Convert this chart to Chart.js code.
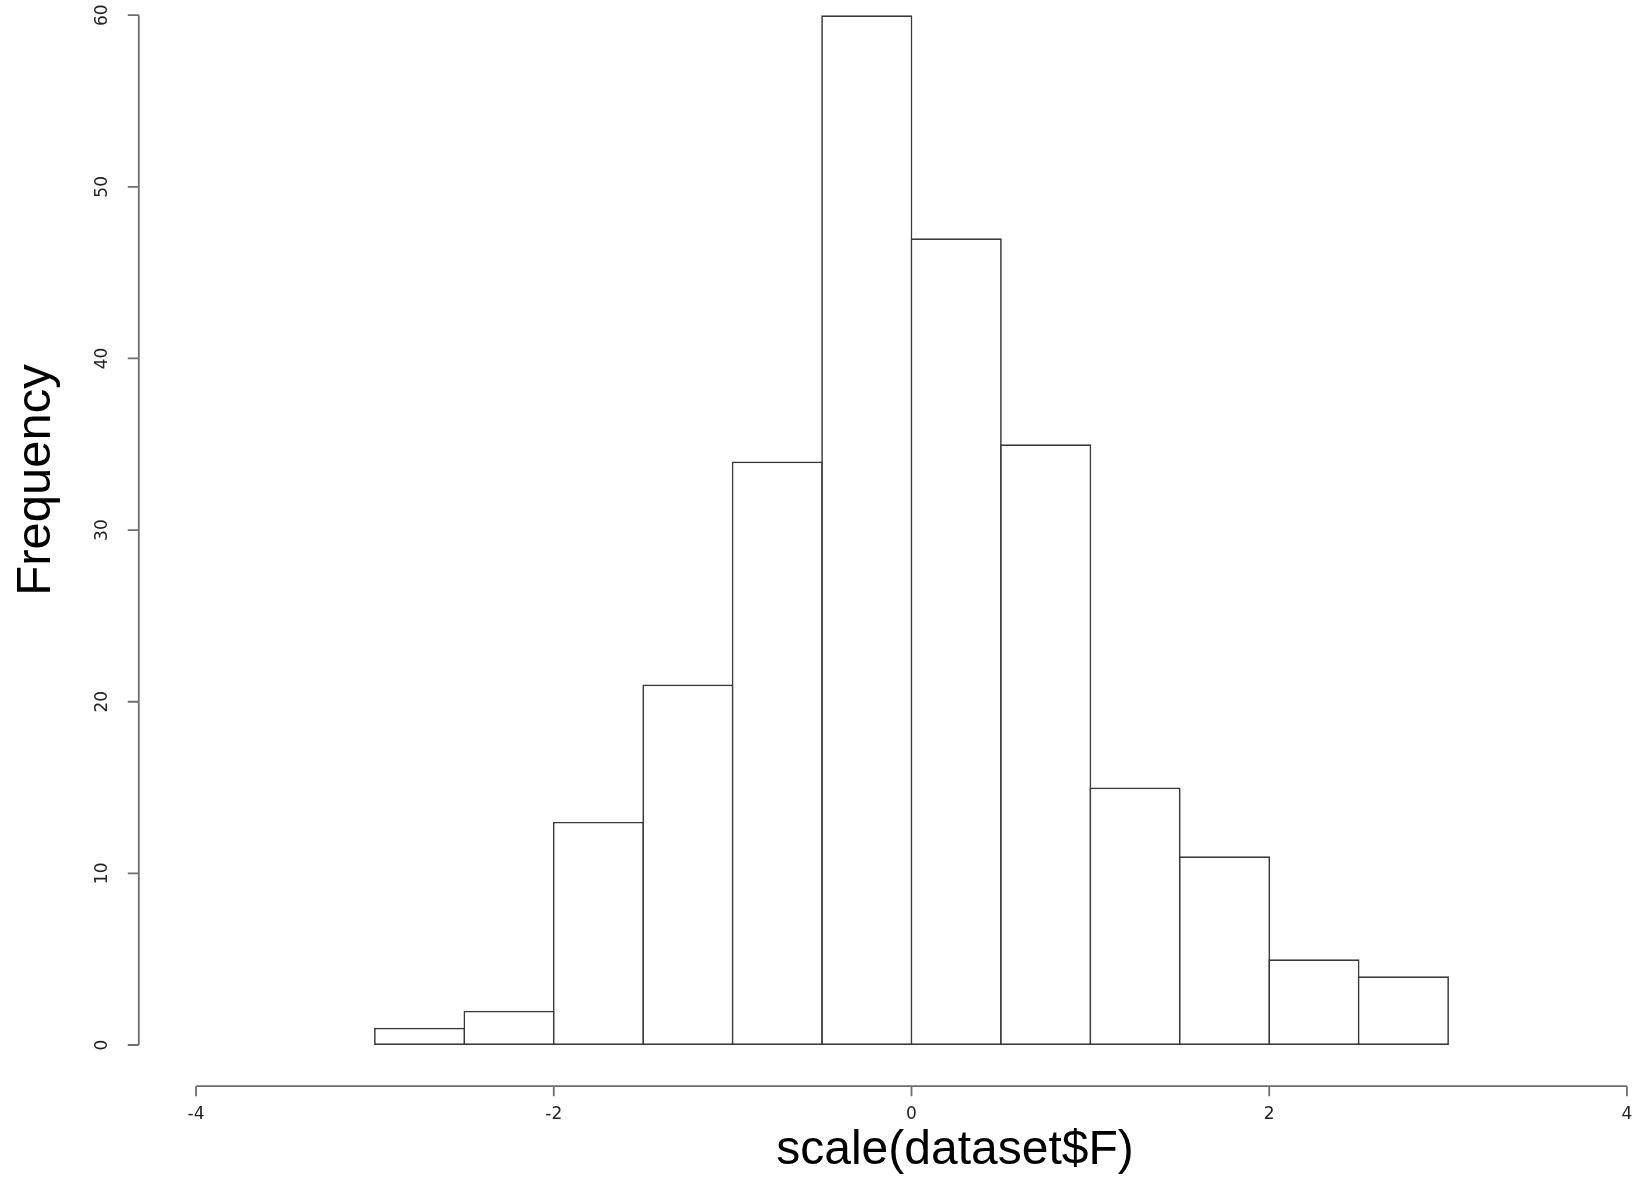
<!DOCTYPE html>
<html>
<head>
<meta charset="utf-8">
<title>Histogram of scale(dataset$F)</title>
<script src="https://cdn.jsdelivr.net/npm/chart.js@4.4.1/dist/chart.umd.min.js"></script>
<style>
  html, body { margin: 0; padding: 0; background: #ffffff; overflow: hidden; width: 1637px; height: 1177px; }
  #wrap { position: absolute; left: 0; top: -60px; width: 1720px; height: 1237px; }
  canvas { display: block; }
</style>
</head>
<body>
<div id="wrap"><canvas id="hist" width="1720" height="1237"></canvas></div>
<script>
// Histogram bin edges and counts
const breaks = [-3, -2.5, -2, -1.5, -1, -0.5, 0, 0.5, 1, 1.5, 2, 2.5, 3];
const counts = [1, 2, 13, 21, 34, 60, 47, 35, 15, 11, 5, 4];

// Axis tick values and titles
const xTicks = [-4, -2, 0, 2, 4];
const yTicks = [0, 10, 20, 30, 40, 50, 60];
const xTitle = 'scale(dataset$F)';
const yTitle = 'Frequency';

// Plot ranges (data range plus 4% on each side)
const xRange = [-4.32, 4.32];
const yRange = [-2.4, 62.4];

const binCenters = counts.map((_, i) => (breaks[i] + breaks[i + 1]) / 2);
const barPoints = counts.map((c, i) => ({ x: binCenters[i], y: c }));

const BORDER_W = 1.7;

// Classic base-graphics style axes: detached lines spanning the tick range only
const baseAxes = {
  id: 'baseAxes',
  afterDraw(chart) {
    const ctx = chart.ctx;
    const xs = chart.scales.x, ys = chart.scales.y;
    const area = chart.chartArea;
    ctx.save();
    ctx.strokeStyle = '#6e6e6e';
    ctx.lineWidth = 1.8;

    // x axis along the bottom edge of the plot region
    const xAxisY = area.bottom;
    ctx.beginPath();
    ctx.moveTo(xs.getPixelForValue(xTicks[0]), xAxisY);
    ctx.lineTo(xs.getPixelForValue(xTicks[xTicks.length - 1]), xAxisY);
    xTicks.forEach(v => {
      const px = xs.getPixelForValue(v);
      ctx.moveTo(px, xAxisY);
      ctx.lineTo(px, xAxisY + 10);
    });
    ctx.stroke();

    // y axis along the left edge of the plot region
    const yAxisX = area.left;
    ctx.beginPath();
    ctx.moveTo(yAxisX, ys.getPixelForValue(yTicks[0]));
    ctx.lineTo(yAxisX, ys.getPixelForValue(yTicks[yTicks.length - 1]));
    yTicks.forEach(v => {
      const py = ys.getPixelForValue(v);
      ctx.moveTo(yAxisX, py);
      ctx.lineTo(yAxisX - 11, py);
    });
    ctx.stroke();

    // tick labels
    ctx.fillStyle = '#222222';
    ctx.font = '17px "DejaVu Sans", sans-serif';
    ctx.textAlign = 'center';
    ctx.textBaseline = 'middle';
    xTicks.forEach(v => {
      ctx.fillText(String(v), xs.getPixelForValue(v), xAxisY + 28);
    });
    yTicks.forEach(v => {
      ctx.save();
      ctx.translate(yAxisX - 36, ys.getPixelForValue(v));
      ctx.rotate(-Math.PI / 2);
      ctx.fillText(String(v), 0, 0);
      ctx.restore();
    });

    // axis titles
    ctx.fillStyle = '#000000';
    ctx.textBaseline = 'alphabetic';
    ctx.font = '48px "Liberation Sans", Arial, sans-serif';
    ctx.fillText(xTitle, 955, xAxisY + 78);

    ctx.save();
    ctx.font = '49px "Liberation Sans", Arial, sans-serif';
    ctx.translate(50, 540);
    ctx.rotate(-Math.PI / 2);
    ctx.fillText(yTitle, 0, 0);
    ctx.restore();

    ctx.restore();
  }
};

new Chart(document.getElementById('hist'), {
  type: 'bar',
  data: {
    datasets: [{
      data: barPoints,
      backgroundColor: '#ffffff',
      borderColor: '#3a3a3a',
      borderWidth: BORDER_W,
      borderSkipped: false,
      barPercentage: 1.019,
      categoryPercentage: 1.0
    }]
  },
  options: {
    responsive: false,
    animation: false,
    devicePixelRatio: 1,
    layout: { padding: { left: 138.8, top: 34, right: 35.8, bottom: 90.8 } },
    plugins: { legend: { display: false }, tooltip: { enabled: false } },
    scales: {
      x: {
        type: 'linear', min: xRange[0], max: xRange[1], display: false, offset: false,
        // no internal ticks, so bar widths follow the bin spacing alone
        afterBuildTicks: scale => { scale.ticks = []; }
      },
      y: { type: 'linear', min: yRange[0], max: yRange[1], display: false }
    }
  },
  plugins: [baseAxes]
});
</script>
</body>
</html>
